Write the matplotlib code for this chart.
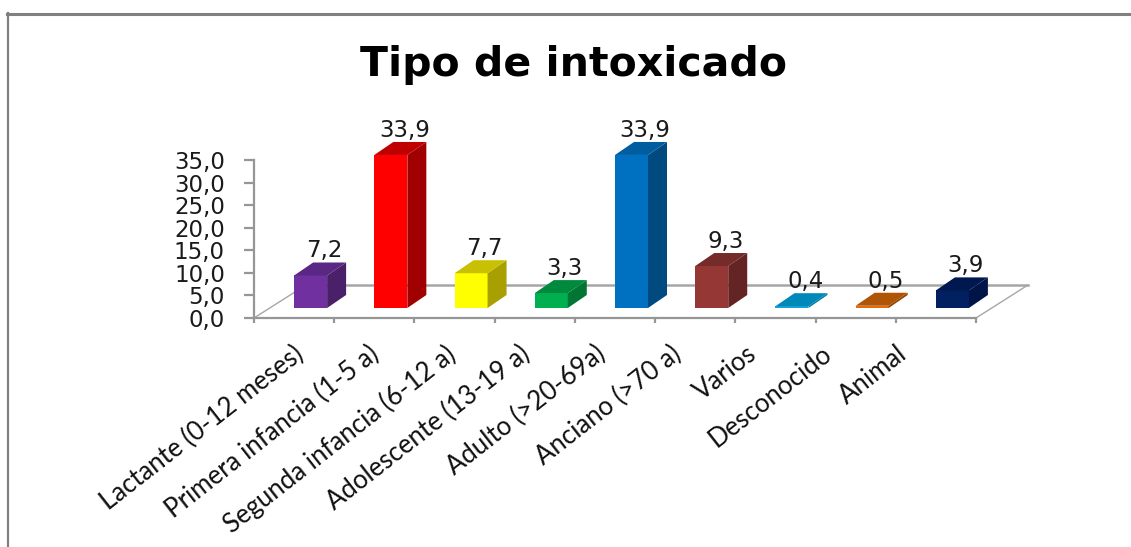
import matplotlib
matplotlib.use('Agg')
import matplotlib.pyplot as plt
from matplotlib.lines import Line2D

# Constants (reference size in pixels)
WIDTH = 1131
HEIGHT = 547
DPI = 100

categories = ['Lactante (0-12 meses)', 'Primera infancia (1-5 a)', 'Segunda infancia (6-12 a)',
              'Adolescente (13-19 a)', 'Adulto (>20-69a)', 'Anciano (>70 a)',
              'Varios', 'Desconocido', 'Animal']
values = [7.2, 33.9, 7.7, 3.3, 33.9, 9.3, 0.4, 0.5, 3.9]
y_ticks = [0, 5, 10, 15, 20, 25, 30, 35]
front_colours = ['#7030A0', '#FF0000', '#FFFF00', '#00B050', '#0070C0', '#953735', '#12A5DC', '#E46C0A', '#002060']
top_colours = ['#5A2785', '#C00000', '#C8C000', '#008A3E', '#005DA0', '#752B2A', '#0088B8', '#B05405', '#001850']
side_colours = ['#4A2068', '#A00000', '#A8A000', '#007534', '#004A80', '#632423', '#0078A0', '#8F4404', '#001448']

GREY = '#969696'
X0, X1 = 254, 976  # axis ends in pixels
Y0, Y35 = 318, 160
PX_X = (X1 - X0) / len(categories)
PX_Y = (Y0 - Y35) / 35

fig = plt.figure(figsize=(WIDTH / DPI, HEIGHT / DPI), dpi=DPI)
ax = fig.add_axes([X0 / WIDTH, 1 - Y0 / HEIGHT, (X1 - X0) / WIDTH, (Y0 - Y35) / HEIGHT])
ax.set_xlim(0, len(categories))
ax.set_ylim(0, 35)
ax.patch.set_alpha(0)
for side in ['top', 'right']:
    ax.spines[side].set_visible(False)
for side in ['left', 'bottom']:
    ax.spines[side].set_color(GREY)
    ax.spines[side].set_linewidth(1.6)

ax.set_yticks(y_ticks)
ax.set_yticklabels([f'{t:.1f}'.replace('.', ',') for t in y_ticks], fontsize=16.5, color='#1a1a1a')
ax.tick_params(axis='y', length=7, width=1.6, color=GREY, pad=14)
ax.set_xticks(range(len(categories) + 1))
ax.set_xticklabels([])
ax.tick_params(axis='x', length=3.5, width=1.6, color=GREY)

# floor drawn in perspective
floor_dx = 52 / PX_X
floor_dy = 33 / PX_Y
n = len(categories)
ax.plot([0, floor_dx], [0, floor_dy], color='#A6A6A6', lw=1, clip_on=False, zorder=1)
ax.plot([n, n + floor_dx], [0, floor_dy], color='#A6A6A6', lw=1, clip_on=False, zorder=1)
ax.plot([floor_dx, n + floor_dx], [floor_dy, floor_dy], color='#A6A6A6', lw=1.8, clip_on=False, zorder=1)

# bars, each one from three faces
bar_w = 33 / PX_X
dx = 19 / PX_X
dy = 13 / PX_Y
base = 10 / PX_Y
for i, v in enumerate(values):
    x = i + 0.5
    top = base + v
    ax.fill([x, x + bar_w, x + bar_w, x], [base, base, top, top], color=front_colours[i], lw=0, clip_on=False, zorder=3)
    ax.fill([x + bar_w, x + bar_w + dx, x + bar_w + dx, x + bar_w], [base, base + dy, top + dy, top],
            color=side_colours[i], lw=0, clip_on=False, zorder=3)
    ax.fill([x, x + bar_w, x + bar_w + dx, x + dx], [top, top, top + dy, top + dy],
            color=top_colours[i], lw=0, clip_on=False, zorder=3)
    ax.text(x + 30 / PX_X, top + dy + 5 / PX_Y, f'{v:.1f}'.replace('.', ','), ha='center', va='baseline',
            fontsize=16.5, color='#1a1a1a', clip_on=False, zorder=4)

# category labels are spaced a bit tighter than the bars
for i, name in enumerate(categories):
    ax.text(0.49 + i * 0.94, -23 / PX_Y, name, rotation=38, rotation_mode='anchor', ha='right', va='top',
            family='Lato', fontsize=18.5, color='#111111', clip_on=False)

fig.text(574 / WIDTH, 1 - 76 / HEIGHT, 'Tipo de intoxicado', ha='center', va='baseline',
         fontsize=29.5, fontweight='bold', color='black')

# chart frame, only top and left are in the picture
fig.add_artist(Line2D([7 / WIDTH, 1], [1 - 13.5 / HEIGHT, 1 - 13.5 / HEIGHT], color='#808080', lw=2.2))
fig.add_artist(Line2D([8 / WIDTH, 8 / WIDTH], [0, 1 - 13 / HEIGHT], color='#808080', lw=1.6))

fig.savefig('out.png', dpi=DPI)
